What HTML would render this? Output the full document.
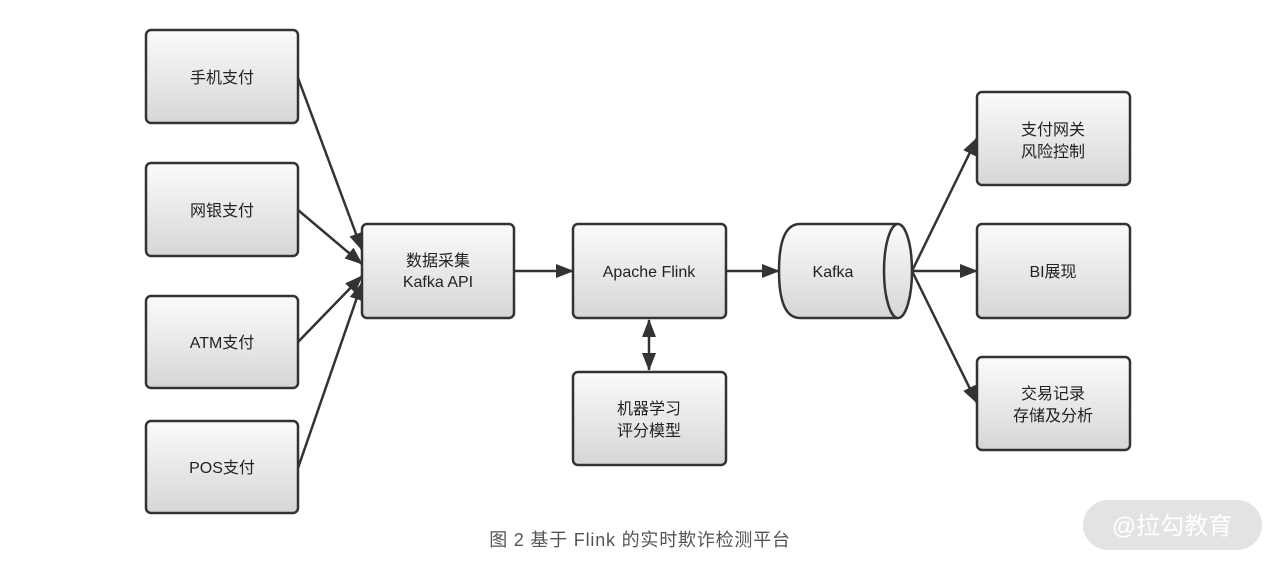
<!DOCTYPE html>
<html><head><meta charset="utf-8"><style>
body{margin:0;background:#fff;width:1280px;height:568px;overflow:hidden;position:relative;font-family:"Liberation Sans","Noto Sans CJK SC",sans-serif}
</style></head><body>
<svg width="1280" height="568" style="position:absolute;left:0;top:0">
<defs>
<linearGradient id="g" x1="0" y1="0" x2="0" y2="1"><stop offset="0" stop-color="#fbfbfb"/><stop offset="1" stop-color="#d6d6d6"/></linearGradient>
<marker id="b" markerWidth="18" markerHeight="14" refX="17" refY="7" orient="auto" markerUnits="userSpaceOnUse"><path d="M0,0 L18,7 L0,14z" fill="#333"/></marker>
<marker id="bs" markerWidth="18" markerHeight="14" refX="1" refY="7" orient="auto" markerUnits="userSpaceOnUse"><path d="M18,0 L0,7 L18,14z" fill="#333"/></marker>
</defs>
<g fill="url(#g)" stroke="#333" stroke-width="2.5">
<rect x="146" y="30" width="152" height="93" rx="5"/>
<rect x="146" y="163" width="152" height="93" rx="5"/>
<rect x="146" y="296" width="152" height="92" rx="5"/>
<rect x="146" y="421" width="152" height="92" rx="5"/>
<rect x="362" y="224" width="152" height="94" rx="5"/>
<rect x="573" y="224" width="153" height="94" rx="5"/>
<rect x="573" y="372" width="153" height="93" rx="5"/>
<rect x="977" y="92" width="153" height="93" rx="5"/>
<rect x="977" y="224" width="153" height="94" rx="5"/>
<rect x="977" y="357" width="153" height="93" rx="5"/>
<path d="M898,224 L800,224 Q779,224 779,271 Q779,318 800,318 L898,318"/>
<ellipse cx="898" cy="271" rx="14" ry="47"/>
</g>
<g stroke="#333" stroke-width="2.5" fill="none">
<line x1="298" y1="78" x2="362" y2="250" marker-end="url(#b)"/>
<line x1="298" y1="210" x2="362" y2="264" marker-end="url(#b)"/>
<line x1="298" y1="342" x2="362" y2="276" marker-end="url(#b)"/>
<line x1="298" y1="468" x2="362" y2="283" marker-end="url(#b)"/>
<line x1="514" y1="271" x2="573" y2="271" marker-end="url(#b)"/>
<line x1="726" y1="271" x2="779" y2="271" marker-end="url(#b)"/>
<line x1="649" y1="320" x2="649" y2="370" marker-end="url(#b)" marker-start="url(#bs)"/>
<line x1="912" y1="271" x2="977" y2="138" marker-end="url(#b)"/>
<line x1="912" y1="271" x2="977" y2="271" marker-end="url(#b)"/>
<line x1="912" y1="271" x2="977" y2="403" marker-end="url(#b)"/>
</g>
<g font-size="16" fill="#222" text-anchor="middle" font-family="Liberation Sans,Noto Sans CJK SC,sans-serif">
<text x="222" y="83">手机支付</text>
<text x="222" y="216">网银支付</text>
<text x="222" y="348">ATM支付</text>
<text x="222" y="473">POS支付</text>
<text x="438" y="266">数据采集</text>
<text x="438" y="287">Kafka API</text>
<text x="649" y="277">Apache Flink</text>
<text x="649" y="414">机器学习</text>
<text x="649" y="436">评分模型</text>
<text x="833" y="277">Kafka</text>
<text x="1053" y="135">支付网关</text>
<text x="1053" y="157">风险控制</text>
<text x="1053" y="277">BI展现</text>
<text x="1053" y="399">交易记录</text>
<text x="1053" y="421">存储及分析</text>
<text x="640" y="546" fill="#555" font-size="18" letter-spacing="0.8">图 2  基于 Flink 的实时欺诈检测平台</text>
</g>
<rect x="1083" y="500" width="179" height="50" rx="25" fill="#dcdcdc" opacity="0.8"/>
<text x="1172" y="534" font-size="24" fill="#fff" text-anchor="middle" font-family="Liberation Sans,Noto Sans CJK SC,sans-serif">@拉勾教育</text>
</svg>
</body></html>
